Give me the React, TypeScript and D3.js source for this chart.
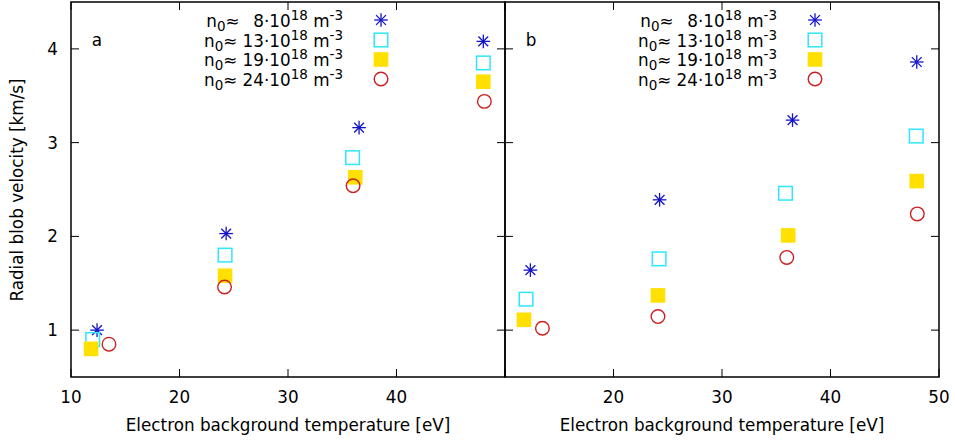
import React from "react";
import * as d3 from "d3";

const seriesLabels = ["8", "13", "19", "24"];
const seriesKinds = ["star", "openSquare", "filledSquare", "circle"];
const seriesColors = ["#1414c8", "#2ee6ff", "#ffe000", "#cc1f1f"];

// Panel a: [temperature, velocity] per series
const panelA = [
  [[12.4, 1.0], [24.3, 2.03], [36.55, 3.16], [48.0, 4.08]],
  [[12.0, 0.9], [24.2, 1.8], [35.95, 2.84], [48.0, 3.85]],
  [[11.85, 0.8], [24.2, 1.58], [36.2, 2.63], [48.0, 3.65]],
  [[13.5, 0.85], [24.15, 1.46], [36.0, 2.54], [48.1, 3.44]],
];
// Panel b
const panelB = [
  [[12.34, 1.64], [24.25, 2.39], [36.5, 3.24], [47.95, 3.86]],
  [[11.94, 1.33], [24.2, 1.76], [35.85, 2.46], [47.9, 3.07]],
  [[11.75, 1.11], [24.1, 1.37], [36.1, 2.01], [47.95, 2.59]],
  [[13.45, 1.02], [24.1, 1.145], [35.97, 1.775], [48.0, 2.24]],
];

const xDomain = [10, 50];
const yDomain = [0.5, 4.5];
const xTicksA = [10, 20, 30, 40];
const xTicksB = [20, 30, 40, 50];
const xTicksAll = [10, 20, 30, 40, 50];
const yTicks = [1, 2, 3, 4];

const W = 955;
const H = 441;
const top = 2;
const bottom = 377;
const font = "DejaVu Sans, sans-serif";
const fs = 16.8;
const fsSmall = 13.5;

function Marker({ kind, color, x, y }: { kind: string; color: string; x: number; y: number }) {
  const s = 6.8;
  if (kind === "star") {
    const d = s * 0.72;
    return (
      <g stroke={color} strokeWidth={1.3}>
        <line x1={x - s} y1={y} x2={x + s} y2={y} />
        <line x1={x} y1={y - s} x2={x} y2={y + s} />
        <line x1={x - d} y1={y - d} x2={x + d} y2={y + d} />
        <line x1={x - d} y1={y + d} x2={x + d} y2={y - d} />
        <circle cx={x} cy={y} r={1.3} fill={color} stroke="none" />
      </g>
    );
  }
  if (kind === "openSquare") {
    return <rect x={x - s} y={y - s} width={2 * s} height={2 * s} fill="none" stroke={color} strokeWidth={1.5} />;
  }
  if (kind === "filledSquare") {
    return <rect x={x - s - 0.5} y={y - s - 0.5} width={2 * s + 1} height={2 * s + 1} fill={color} />;
  }
  return <circle cx={x} cy={y} r={s} fill="none" stroke={color} strokeWidth={1.4} />;
}

function Panel({ left, right, data, xTickLabels, showY, letter, legendRight }: any) {
  const x = d3.scaleLinear().domain(xDomain).range([left, right]);
  const y = d3.scaleLinear().domain(yDomain).range([bottom, top]);
  const tl = 8;
  const legendMarkerX = legendRight + 38;
  const rowY = [20, 40, 59.5, 79];
  return (
    <g>
      <rect x={left} y={top} width={right - left} height={bottom - top} fill="none" stroke="#000" strokeWidth={1.5} />
      {xTicksAll.map((t) => (
        <g key={"xt" + t} stroke="#000" strokeWidth={1}>
          <line x1={x(t)} y1={bottom} x2={x(t)} y2={bottom - tl} />
          <line x1={x(t)} y1={top} x2={x(t)} y2={top + tl} />
        </g>
      ))}
      {yTicks.map((t) => (
        <g key={"yt" + t} stroke="#000" strokeWidth={1}>
          <line x1={left} y1={y(t)} x2={left + tl} y2={y(t)} />
          <line x1={right} y1={y(t)} x2={right - tl} y2={y(t)} />
        </g>
      ))}
      {xTickLabels.map((t: number) => (
        <text key={"xl" + t} x={x(t)} y={403} textAnchor="middle" fontSize={fs} fontFamily={font}>
          {t}
        </text>
      ))}
      {showY &&
        yTicks.map((t) => (
          <text key={"yl" + t} x={left - 13} y={y(t) + 6} textAnchor="end" fontSize={fs} fontFamily={font}>
            {t}
          </text>
        ))}
      <text x={(left + right) / 2} y={431} textAnchor="middle" fontSize={fs} fontFamily={font}>
        Electron background temperature [eV]
      </text>
      <text x={left + 26} y={46} textAnchor="middle" fontSize={fs} fontFamily={font}>
        {letter}
      </text>
      {seriesLabels.map((lab, i) => (
        <g key={"lg" + i}>
          <text x={legendRight} y={rowY[i] + 6.5} textAnchor="end" fontSize={fs} fontFamily={font} xmlSpace="preserve">
            <tspan>n</tspan>
            <tspan fontSize={fsSmall} dy={4}>0</tspan>
            <tspan dy={-4}>{"≈ " + (lab.length < 2 ? "\u2002" : "") + lab + "·10"}</tspan>
            <tspan fontSize={fsSmall} dy={-7}>18</tspan>
            <tspan dy={7}>{" m"}</tspan>
            <tspan fontSize={fsSmall} dy={-7}>-3</tspan>
          </text>
          <Marker kind={seriesKinds[i]} color={seriesColors[i]} x={legendMarkerX} y={rowY[i]} />
        </g>
      ))}
      {data.map((ser: number[][], i: number) =>
        ser.map((p, j) => <Marker key={"m" + i + "-" + j} kind={seriesKinds[i]} color={seriesColors[i]} x={x(p[0])} y={y(p[1])} />)
      )}
    </g>
  );
}

export default function App() {
  return (
    <svg width={W} height={H} style={{ position: "absolute", left: 0, top: 0, background: "#fff" }}>
      <rect width={W} height={H} fill="#fff" />
      <text
        transform={`translate(23,190) rotate(-90)`}
        textAnchor="middle"
        fontSize={fs}
        fontFamily={font}
      >
        Radial blob velocity [km/s]
      </text>
      <Panel left={71} right={505} data={panelA} xTickLabels={xTicksA} showY={true} letter="a" legendRight={343} />
      <Panel left={505} right={939} data={panelB} xTickLabels={xTicksB} showY={false} letter="b" legendRight={777} />
    </svg>
  );
}
